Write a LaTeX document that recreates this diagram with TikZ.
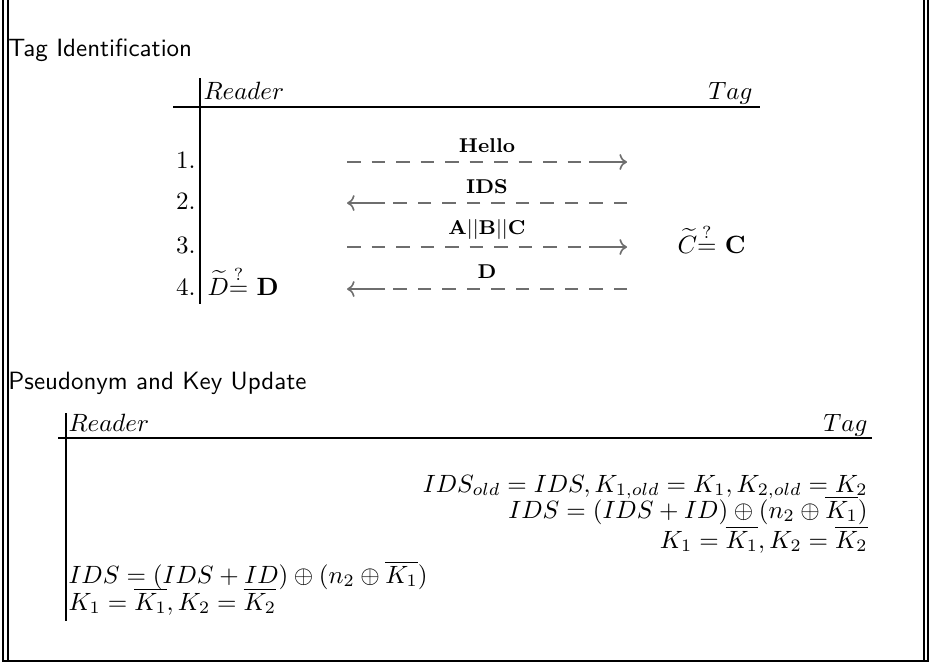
\documentclass[tikz,border=0pt]{standalone}
\usepackage{amsmath, amssymb}
\usetikzlibrary{arrows.meta, positioning}
\definecolor{Wire}{HTML}{6E6E6E}

\begin{document}
\begin{tikzpicture}[x=0.4pt, y=-0.4pt,
  node distance=3pt,
  boxline/.style={line width=0.8pt},
  tabrule/.style={line width=0.8pt},
  heading/.style={font=\sffamily, inner sep=0pt, anchor=base west},
  lefttext/.style={inner sep=0pt, anchor=base west},
  righttext/.style={inner sep=0pt, anchor=base east},
  msglabel/.style={font=\footnotesize\bfseries, inner sep=1pt},
  msgdashes/.style={draw=Wire, line width=0.65pt, dash pattern=on 5.4pt off 4.4pt},
  msgtip/.style={draw=Wire, line width=0.65pt, -{Computer Modern Rightarrow}}]
  \useasboundingbox (0,0) rectangle (930,662);
  % outer frame
  \draw[boxline] (2.8,0) -- (2.8,660.5) -- (928.2,660.5) -- (928.2,0);
  \draw[boxline] (7.5,0) -- (7.5,660.5);
  \draw[boxline] (924.3,0) -- (924.3,660.5);

  % tag identification
  \node[heading] (tagid) at (8,56) {Tag Identification};
  \node[lefttext] (reader1) at (203,99) {$Reader$};
  \node[righttext] (tag1) at (753,99) {$Tag$};
  \draw[tabrule] (173,107) -- (760,107);
  \draw[tabrule] (200,78) -- (200,304);
  \node[righttext] (n1) at (196,168) {1.};
  \node[righttext] (n2) at (196,209) {2.};
  \node[righttext] (n3) at (196,253) {3.};
  \node[righttext] (n4) at (196,295) {4.};

  \coordinate (m1l) at (347,162);
  \coordinate (m1k) at (589,162);
  \coordinate (m1r) at (627,162);
  \coordinate (m2l) at (347,203);
  \coordinate (m2k) at (385,203);
  \coordinate (m2r) at (627,203);
  \coordinate (m3l) at (347,247);
  \coordinate (m3k) at (589,247);
  \coordinate (m3r) at (627,247);
  \coordinate (m4l) at (347,289);
  \coordinate (m4k) at (385,289);
  \coordinate (m4r) at (627,289);
  \draw[msgdashes] (m1l) -- (m1k);
  \draw[msgtip] (m1k) -- (m1r);
  \draw[msgdashes] (m2r) -- (m2k);
  \draw[msgtip] (m2k) -- (m2l);
  \draw[msgdashes] (m3l) -- (m3k);
  \draw[msgtip] (m3k) -- (m3r);
  \draw[msgdashes] (m4r) -- (m4k);
  \draw[msgtip] (m4k) -- (m4l);
  \node[msglabel] (hello) at (487,146) {Hello};
  \node[msglabel] (ids) at (487,187) {IDS};
  \node[msglabel] (abc) at (487,229) {$\mathbf{A||B||C}$};
  \node[msglabel] (dd) at (487,272) {D};
  \node[lefttext] (checkc) at (677,253) {$\widetilde{C}{\stackrel{?}{=}}$ $\mathbf{C}$};
  \node[lefttext] (checkd) at (207,295) {$\widetilde{D}{\stackrel{?}{=}}$ $\mathbf{D}$};

  % pseudonym and key update
  \node[heading] (update) at (8,389) {Pseudonym and Key Update};
  \node[lefttext] (reader2) at (68,431) {$Reader$};
  \node[righttext] (tag2) at (868,431) {$Tag$};
  \draw[tabrule] (58,438) -- (872,438);
  \draw[tabrule] (66,413) -- (66,621);
  \node[righttext] (t1) at (868,492) {$IDS_{old} = IDS, K_{1,old} = K_1, K_{2,old} = K_2$};
  \node[righttext] (t2) at (868,518) {$IDS = (IDS + ID) \oplus (n_2 \oplus \overline{K_1})$};
  \node[righttext] (t3) at (868,548) {$K_1 = \overline{K_1}, K_2 = \overline{K_2}$};
  \node[lefttext] (r1) at (68,583) {$IDS = (IDS + ID) \oplus (n_2 \oplus \overline{K_1})$};
  \node[lefttext] (r2) at (68,610) {$K_1 = \overline{K_1}, K_2 = \overline{K_2}$};
\end{tikzpicture}
\end{document}
